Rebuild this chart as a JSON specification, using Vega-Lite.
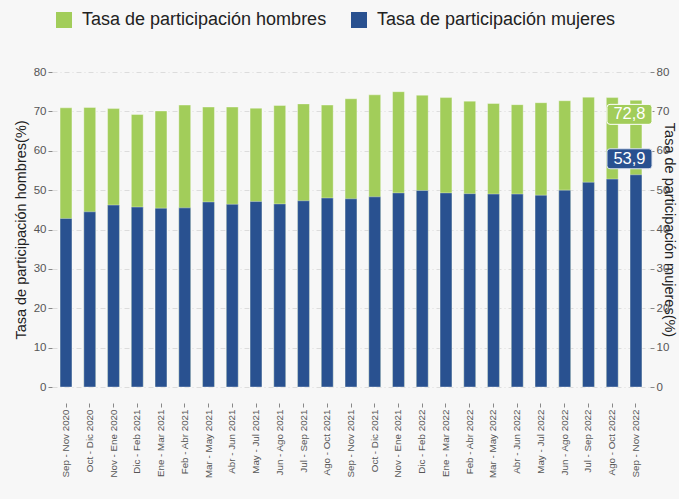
{
  "$schema": "https://vega.github.io/schema/vega-lite/v6.json",
  "width": 598,
  "height": 315,
  "autosize": {"type": "none"},
  "padding": {"left": 52, "top": 72, "right": 29, "bottom": 112},
  "background": "#f7f7f7",
  "config": {
    "font": "Liberation Sans",
    "view": {"stroke": null},
    "locale": {"number": {"decimal": ",", "thousands": ".", "grouping": [3], "currency": ["", " €"]}}
  },
  "data": {
    "values": [
      {"periodo": "Sep - Nov 2020", "serie": "Tasa de participación hombres", "valor": 70.9},
      {"periodo": "Oct - Dic 2020", "serie": "Tasa de participación hombres", "valor": 71.0},
      {"periodo": "Nov - Ene 2020", "serie": "Tasa de participación hombres", "valor": 70.7},
      {"periodo": "Dic - Feb 2021", "serie": "Tasa de participación hombres", "valor": 69.2},
      {"periodo": "Ene - Mar 2021", "serie": "Tasa de participación hombres", "valor": 70.1},
      {"periodo": "Feb - Abr 2021", "serie": "Tasa de participación hombres", "valor": 71.6},
      {"periodo": "Mar - May 2021", "serie": "Tasa de participación hombres", "valor": 71.1},
      {"periodo": "Abr - Jun 2021", "serie": "Tasa de participación hombres", "valor": 71.1},
      {"periodo": "May - Jul 2021", "serie": "Tasa de participación hombres", "valor": 70.8},
      {"periodo": "Jun - Ago 2021", "serie": "Tasa de participación hombres", "valor": 71.5},
      {"periodo": "Jul - Sep 2021", "serie": "Tasa de participación hombres", "valor": 71.9},
      {"periodo": "Ago - Oct 2021", "serie": "Tasa de participación hombres", "valor": 71.6},
      {"periodo": "Sep - Nov 2021", "serie": "Tasa de participación hombres", "valor": 73.2},
      {"periodo": "Oct - Dic 2021", "serie": "Tasa de participación hombres", "valor": 74.2},
      {"periodo": "Nov - Ene 2021", "serie": "Tasa de participación hombres", "valor": 75.0},
      {"periodo": "Dic - Feb 2022", "serie": "Tasa de participación hombres", "valor": 74.1},
      {"periodo": "Ene - Mar 2022", "serie": "Tasa de participación hombres", "valor": 73.5},
      {"periodo": "Feb - Abr 2022", "serie": "Tasa de participación hombres", "valor": 72.6},
      {"periodo": "Mar - May 2022", "serie": "Tasa de participación hombres", "valor": 72.0},
      {"periodo": "Abr - Jun 2022", "serie": "Tasa de participación hombres", "valor": 71.7},
      {"periodo": "May - Jul 2022", "serie": "Tasa de participación hombres", "valor": 72.2},
      {"periodo": "Jun - Ago 2022", "serie": "Tasa de participación hombres", "valor": 72.7},
      {"periodo": "Jul - Sep 2022", "serie": "Tasa de participación hombres", "valor": 73.6},
      {"periodo": "Ago - Oct 2022", "serie": "Tasa de participación hombres", "valor": 73.5},
      {"periodo": "Sep - Nov 2022", "serie": "Tasa de participación hombres", "valor": 72.8},
      {"periodo": "Sep - Nov 2020", "serie": "Tasa de participación mujeres", "valor": 42.8},
      {"periodo": "Oct - Dic 2020", "serie": "Tasa de participación mujeres", "valor": 44.5},
      {"periodo": "Nov - Ene 2020", "serie": "Tasa de participación mujeres", "valor": 46.2},
      {"periodo": "Dic - Feb 2021", "serie": "Tasa de participación mujeres", "valor": 45.7},
      {"periodo": "Ene - Mar 2021", "serie": "Tasa de participación mujeres", "valor": 45.4},
      {"periodo": "Feb - Abr 2021", "serie": "Tasa de participación mujeres", "valor": 45.5},
      {"periodo": "Mar - May 2021", "serie": "Tasa de participación mujeres", "valor": 47.0},
      {"periodo": "Abr - Jun 2021", "serie": "Tasa de participación mujeres", "valor": 46.4},
      {"periodo": "May - Jul 2021", "serie": "Tasa de participación mujeres", "valor": 47.1},
      {"periodo": "Jun - Ago 2021", "serie": "Tasa de participación mujeres", "valor": 46.5},
      {"periodo": "Jul - Sep 2021", "serie": "Tasa de participación mujeres", "valor": 47.3},
      {"periodo": "Ago - Oct 2021", "serie": "Tasa de participación mujeres", "valor": 48.0},
      {"periodo": "Sep - Nov 2021", "serie": "Tasa de participación mujeres", "valor": 47.8},
      {"periodo": "Oct - Dic 2021", "serie": "Tasa de participación mujeres", "valor": 48.3},
      {"periodo": "Nov - Ene 2021", "serie": "Tasa de participación mujeres", "valor": 49.3},
      {"periodo": "Dic - Feb 2022", "serie": "Tasa de participación mujeres", "valor": 49.9},
      {"periodo": "Ene - Mar 2022", "serie": "Tasa de participación mujeres", "valor": 49.3},
      {"periodo": "Feb - Abr 2022", "serie": "Tasa de participación mujeres", "valor": 49.1},
      {"periodo": "Mar - May 2022", "serie": "Tasa de participación mujeres", "valor": 49.0},
      {"periodo": "Abr - Jun 2022", "serie": "Tasa de participación mujeres", "valor": 49.0},
      {"periodo": "May - Jul 2022", "serie": "Tasa de participación mujeres", "valor": 48.7},
      {"periodo": "Jun - Ago 2022", "serie": "Tasa de participación mujeres", "valor": 50.0},
      {"periodo": "Jul - Sep 2022", "serie": "Tasa de participación mujeres", "valor": 52.0},
      {"periodo": "Ago - Oct 2022", "serie": "Tasa de participación mujeres", "valor": 52.8},
      {"periodo": "Sep - Nov 2022", "serie": "Tasa de participación mujeres", "valor": 53.9}
    ]
  },
  "encoding": {
    "x": {
      "field": "periodo",
      "type": "nominal",
      "sort": null,
      "title": null,
      "scale": {"paddingInner": 0.5, "paddingOuter": 0.34},
      "axis": {
        "labelAngle": -90,
        "labelFontSize": 9.8,
        "labelColor": "#555555",
        "labelPadding": 2,
        "offset": 16,
        "domain": false,
        "ticks": true,
        "tickSize": 4,
        "tickColor": "#888888",
        "grid": false
      }
    }
  },
  "layer": [
    {
      "encoding": {
        "y": {
          "field": "valor",
          "type": "quantitative",
          "stack": null,
          "scale": {"domain": [0, 80], "nice": false},
          "title": "Tasa de participación hombres(%)",
          "axis": {
            "orient": "left",
            "values": [0, 10, 20, 30, 40, 50, 60, 70, 80],
            "labelOverlap": false,
            "labelFontSize": 11.5,
            "labelColor": "#555555",
            "labelPadding": 2,
            "tickSize": 4,
            "tickColor": "#888888",
            "domain": false,
            "grid": true,
            "gridColor": "#dcdcdc",
            "gridDash": [5, 3, 1, 3],
            "titleFontSize": 14.5,
            "titleFontWeight": "normal",
            "titleColor": "#222222",
            "titlePadding": 5
          }
        }
      },
      "layer": [
        {
          "mark": {"type": "bar", "stroke": "#ffffff", "strokeWidth": 0.6, "strokeOpacity": 0.6},
          "encoding": {
            "color": {
              "field": "serie",
              "type": "nominal",
              "scale": {
                "domain": ["Tasa de participación hombres", "Tasa de participación mujeres"],
                "range": ["#a2cd5a", "#295190"]
              },
              "legend": {
                "title": null,
                "orient": "none",
                "direction": "horizontal",
                "legendX": 3,
                "legendY": -61,
                "padding": 0,
                "symbolType": "square",
                "symbolSize": 256,
                "symbolStrokeWidth": 0,
                "labelFontSize": 18,
                "labelColor": "#222222",
                "labelOffset": 9,
                "columnPadding": 23,
                "labelLimit": 400,
                "encode": {
                  "symbols": {
                    "update": {
                      "fill": {"signal": "datum.value === 'Tasa de participación hombres' ? '#9acb3c' : '#0b2f6e'"}
                    }
                  }
                }
              }
            }
          }
        },
        {
          "transform": [{"filter": "datum.periodo === 'Sep - Nov 2020' && datum.serie === 'Tasa de participación hombres'"}],
          "mark": {"type": "rule", "color": "#999999", "strokeWidth": 2},
          "encoding": {
            "y": {"datum": 0, "type": "quantitative"}
          }
        }
      ]
    },
    {
      "transform": [{"filter": "datum.periodo === 'Sep - Nov 2022'"}],
      "encoding": {
        "y": {
          "field": "valor",
          "type": "quantitative",
          "scale": {"domain": [0, 80], "nice": false},
          "title": "Tasa de participación mujeres(%)",
          "axis": {
            "orient": "right",
            "values": [0, 10, 20, 30, 40, 50, 60, 70, 80],
            "labelOverlap": false,
            "labelFontSize": 11.5,
            "labelColor": "#555555",
            "labelPadding": 2,
            "tickSize": 4,
            "tickColor": "#888888",
            "domain": false,
            "grid": false,
            "titleFontSize": 14.5,
            "titleFontWeight": "normal",
            "titleColor": "#222222",
            "titlePadding": -7
          }
        }
      },
      "layer": [
        {
          "transform": [{"filter": "datum.serie === 'Tasa de participación hombres'"}],
          "mark": {
            "type": "point",
            "shape": "M-0.867,-0.444 L0.867,-0.444 Q1,-0.444 1,-0.311 L1,0.311 Q1,0.444 0.867,0.444 L-0.867,0.444 Q-1,0.444 -1,0.311 L-1,-0.311 Q-1,-0.444 -0.867,-0.444 Z",
            "size": 2025,
            "filled": true,
            "fill": "#a2cd5a",
            "stroke": "#ffffff",
            "strokeWidth": 1,
            "opacity": 1,
            "xOffset": -6.5,
            "yOffset": 14
          }
        },
        {
          "transform": [{"filter": "datum.serie === 'Tasa de participación hombres'"}],
          "mark": {"type": "text", "color": "#ffffff", "fontSize": 16.5, "xOffset": -6.5, "yOffset": 14, "baseline": "middle", "align": "center"},
          "encoding": {"text": {"field": "valor", "type": "quantitative", "format": ".1f"}}
        },
        {
          "transform": [{"filter": "datum.serie === 'Tasa de participación mujeres'"}],
          "mark": {
            "type": "point",
            "shape": "M-0.867,-0.444 L0.867,-0.444 Q1,-0.444 1,-0.311 L1,0.311 Q1,0.444 0.867,0.444 L-0.867,0.444 Q-1,0.444 -1,0.311 L-1,-0.311 Q-1,-0.444 -0.867,-0.444 Z",
            "size": 2025,
            "filled": true,
            "fill": "#295190",
            "stroke": "#dde3ee",
            "strokeWidth": 1,
            "opacity": 1,
            "xOffset": -6.5,
            "yOffset": -16
          }
        },
        {
          "transform": [{"filter": "datum.serie === 'Tasa de participación mujeres'"}],
          "mark": {"type": "text", "color": "#ffffff", "fontSize": 16.5, "xOffset": -6.5, "yOffset": -16, "baseline": "middle", "align": "center"},
          "encoding": {"text": {"field": "valor", "type": "quantitative", "format": ".1f"}}
        }
      ]
    }
  ],
  "resolve": {"scale": {"y": "independent"}}
}
